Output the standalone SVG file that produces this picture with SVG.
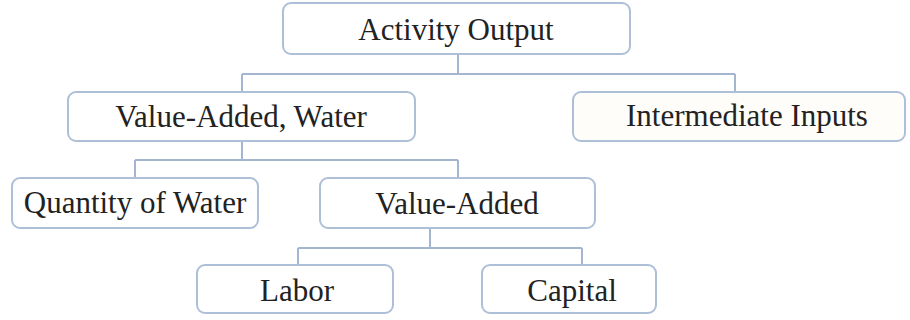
<svg xmlns="http://www.w3.org/2000/svg" width="910" height="320" viewBox="0 0 910 320">
<style>
.box{fill:#ffffff;stroke:#aebfd8;stroke-width:2}
.lbl{font-family:"Liberation Serif","Times New Roman",serif;font-size:31px;fill:#222222;text-anchor:middle}
.con{fill:none;stroke:#a3b5d0;stroke-width:2}
</style>
<rect width="910" height="320" fill="#ffffff"/>
<g id="connectors">
<path class="con" d="M458,54 V74 M242,74 H735 M242,74 V92 M735,74 V92"/>
<path class="con" d="M242,141 V160 M135,160 H458 M135,160 V178 M458,160 V178"/>
<path class="con" d="M430,228 V248 M298,248 H582 M298,248 V265 M582,248 V265"/>
</g>
<g id="activity-output">
<rect class="box" x="283" y="3" width="347" height="51" rx="8"/>
<text class="lbl" x="456" y="40">Activity Output</text>
</g>
<g id="value-added-water">
<rect class="box" x="68" y="92" width="347" height="49" rx="8"/>
<text class="lbl" x="241" y="127">Value-Added, Water</text>
</g>
<g id="intermediate-inputs">
<rect class="box" x="573" y="92" width="332" height="49" rx="8" style="fill:#fffdf9"/>
<text class="lbl" x="747" y="126">Intermediate Inputs</text>
</g>
<g id="quantity-of-water">
<rect class="box" x="12" y="178" width="246" height="50" rx="8"/>
<text class="lbl" x="135" y="213">Quantity of Water</text>
</g>
<g id="value-added">
<rect class="box" x="320" y="178" width="275" height="50" rx="8"/>
<text class="lbl" x="457" y="214">Value-Added</text>
</g>
<g id="labor">
<rect class="box" x="197" y="265" width="196" height="48" rx="8"/>
<text class="lbl" x="297" y="301">Labor</text>
</g>
<g id="capital">
<rect class="box" x="482" y="265" width="174" height="48" rx="8"/>
<text class="lbl" x="572" y="301">Capital</text>
</g>
</svg>
